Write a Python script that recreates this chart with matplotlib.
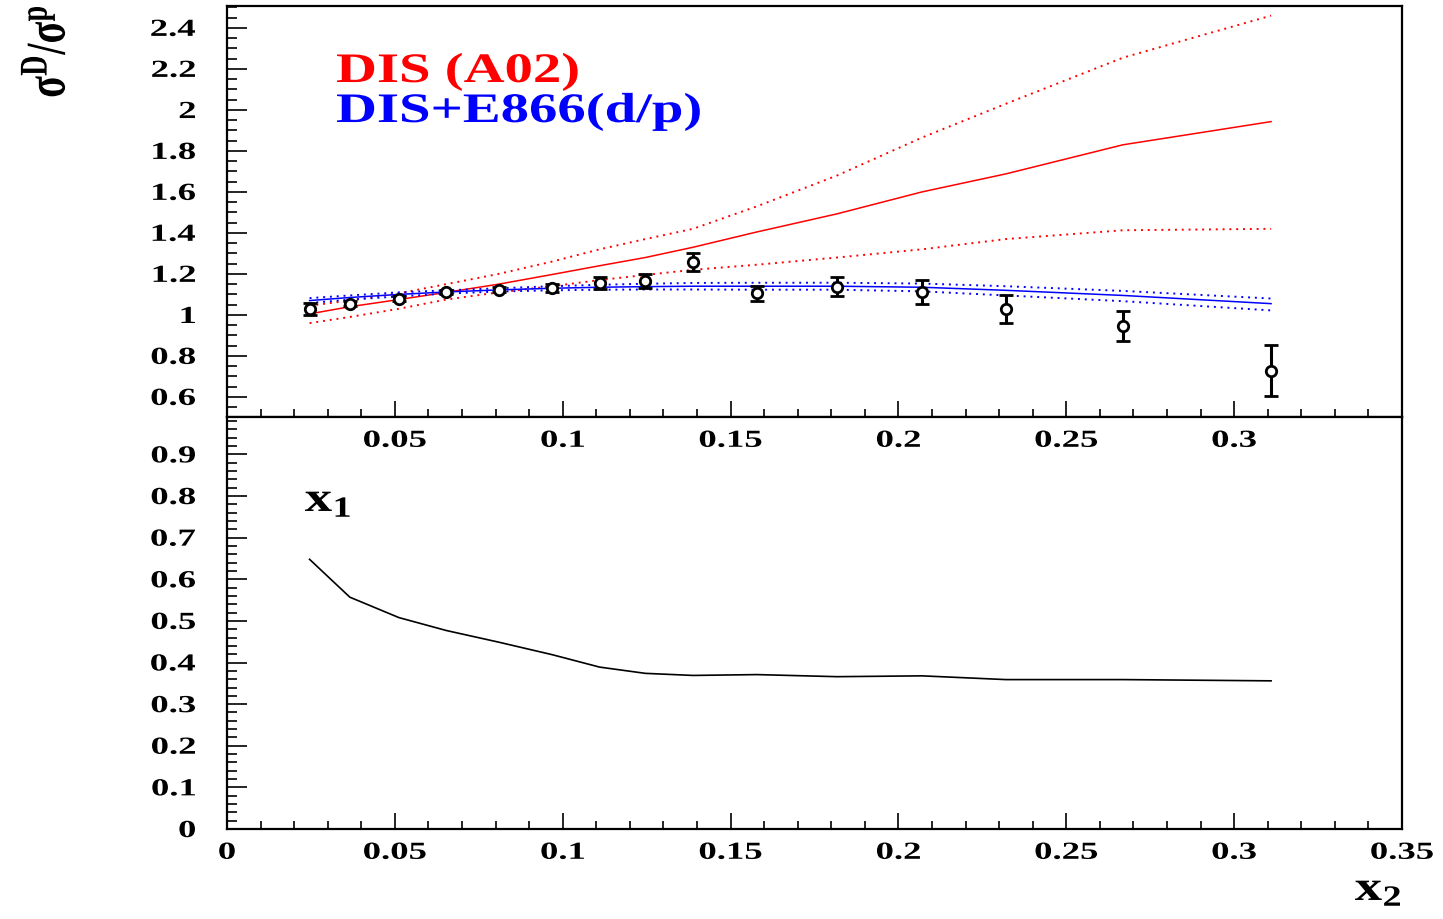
import matplotlib
matplotlib.use('Agg')
import matplotlib.pyplot as plt
from matplotlib.ticker import MultipleLocator, NullFormatter
from matplotlib.textpath import TextPath
from matplotlib.patches import PathPatch
from matplotlib.font_manager import FontProperties
from matplotlib.transforms import Affine2D, IdentityTransform

"""
**DATA**
"""
x2 = [0.0246, 0.0366, 0.0512, 0.0653, 0.0809, 0.0968, 0.1110, 0.1246,
      0.1388, 0.1579, 0.1817, 0.2070, 0.2320, 0.2669, 0.3110]
ratio = [1.029, 1.054, 1.078, 1.111, 1.122, 1.133, 1.155, 1.167,
         1.257, 1.105, 1.138, 1.111, 1.029, 0.945, 0.728]
ratio_err = [0.030, 0.012, 0.012, 0.010, 0.012, 0.020, 0.030, 0.035,
             0.045, 0.035, 0.047, 0.058, 0.068, 0.074, 0.124]

a02 = [1.005, 1.040, 1.075, 1.110, 1.150, 1.197, 1.240, 1.280,
       1.330, 1.405, 1.493, 1.600, 1.688, 1.830, 1.943]
a02_up = [1.045, 1.070, 1.105, 1.150, 1.200, 1.260, 1.320, 1.370,
          1.420, 1.530, 1.680, 1.865, 2.030, 2.255, 2.460]
a02_lo = [0.960, 0.990, 1.030, 1.075, 1.110, 1.140, 1.170, 1.195,
          1.220, 1.245, 1.280, 1.320, 1.370, 1.413, 1.420]

e866 = [1.070, 1.085, 1.100, 1.112, 1.122, 1.130, 1.135, 1.138,
        1.140, 1.140, 1.140, 1.135, 1.120, 1.095, 1.055]
e866_up = [1.082, 1.095, 1.110, 1.120, 1.130, 1.140, 1.147, 1.152,
           1.156, 1.157, 1.157, 1.153, 1.140, 1.117, 1.080]
e866_lo = [1.058, 1.075, 1.090, 1.104, 1.114, 1.120, 1.123, 1.124,
           1.124, 1.123, 1.123, 1.115, 1.095, 1.067, 1.022]

x1 = [0.648, 0.557, 0.508, 0.477, 0.449, 0.419, 0.389, 0.374,
      0.369, 0.371, 0.366, 0.368, 0.359, 0.359, 0.356]

top_yticks = [0.6, 0.8, 1.0, 1.2, 1.4, 1.6, 1.8, 2.0, 2.2, 2.4]
top_xticks = [0.05, 0.1, 0.15, 0.2, 0.25, 0.3]
bot_yticks = [0, 0.1, 0.2, 0.3, 0.4, 0.5, 0.6, 0.7, 0.8, 0.9]
bot_xticks = [0, 0.05, 0.1, 0.15, 0.2, 0.25, 0.3, 0.35]
##########################################

plt.rcParams['mathtext.fontset'] = 'custom'
plt.rcParams['mathtext.rm'] = 'Liberation Serif:bold'
plt.rcParams['mathtext.it'] = 'Liberation Serif:bold'
plt.rcParams['mathtext.bf'] = 'Liberation Serif:bold'
plt.rcParams['mathtext.default'] = 'rm'

W, H = 1443, 920
fig = plt.figure(figsize=(W / 100, H / 100), dpi=100)
ax1 = fig.add_axes([0.1573, 0.54565, 0.8143, 0.44674])
ax2 = fig.add_axes([0.1573, 0.09783, 0.8143, 0.44783])

FP = FontProperties(family='Liberation Serif', weight='bold')


# the ROOT picture was stretched sideways, so text is drawn as wide paths
def stext(x, y, s, size, color='k', ha='left', va='baseline', rot=0, stretch=1.45):
    path = TextPath((0, 0), s, size=size, prop=FP)
    path = Affine2D().rotate_deg(rot).scale(stretch, 1).transform_path(path)
    ext = path.get_extents()
    dx = {'left': -ext.x0, 'center': -(ext.x0 + ext.x1) / 2, 'right': -ext.x1}[ha]
    dy = {'baseline': 0, 'center': -(ext.y0 + ext.y1) / 2, 'top': -ext.y1}[va]
    path = Affine2D().translate(x + dx, y + dy).transform_path(path)
    fig.add_artist(PathPatch(path, fc=color, ec='none', lw=0, transform=IdentityTransform()))


for ax in (ax1, ax2):
    ax.set_xlim(0, 0.35)
    ax.xaxis.set_major_locator(MultipleLocator(0.05))
    ax.xaxis.set_minor_locator(MultipleLocator(0.01))
    ax.xaxis.set_major_formatter(NullFormatter())
    ax.yaxis.set_major_formatter(NullFormatter())
    ax.tick_params(which='both', direction='in', top=False, right=False)
    ax.tick_params(axis='x', which='major', length=11.5, width=1.2)
    ax.tick_params(axis='x', which='minor', length=5.8, width=1.2)
    ax.tick_params(axis='y', which='major', length=14.4, width=1.2)
    ax.tick_params(axis='y', which='minor', length=7.2, width=1.2)
    for s in ax.spines.values():
        s.set_linewidth(1.6)

# top panel
ax1.set_ylim(0.502, 2.507)
ax1.yaxis.set_major_locator(MultipleLocator(0.2))
ax1.yaxis.set_minor_locator(MultipleLocator(0.05))

ax1.plot(x2, a02, color='#ff0000', lw=1.1)
ax1.plot(x2, a02_up, color='#ff0000', lw=1.4, ls=(0, (1, 2.5)))
ax1.plot(x2, a02_lo, color='#ff0000', lw=1.4, ls=(0, (1, 2.5)))
ax1.plot(x2, e866, color='#0000ff', lw=1.1)
ax1.plot(x2, e866_up, color='#0000ff', lw=1.4, ls=(0, (1, 2.5)))
ax1.plot(x2, e866_lo, color='#0000ff', lw=1.4, ls=(0, (1, 2.5)))
ax1.errorbar(x2, ratio, yerr=ratio_err, fmt='o', color='k', mfc='white', mec='k',
             ms=7.5, mew=2.0, elinewidth=2.2, capsize=5, capthick=2.2, zorder=5)

# bottom panel
ax2.set_ylim(0, 0.99)
ax2.yaxis.set_major_locator(MultipleLocator(0.1))
ax2.yaxis.set_minor_locator(MultipleLocator(0.02))
ax2.plot(x2, x1, color='k', lw=1.2)

# tick labels
for ax, yt, xt in ((ax1, top_yticks, top_xticks), (ax2, bot_yticks, bot_xticks)):
    x0, y0 = ax.transAxes.transform((0, 0))
    for v in yt:
        py = ax.transData.transform((0, v))[1]
        stext(x0 - 32, py, '%g' % v, 24.5, ha='right', va='center', stretch=1.5)
    for v in xt:
        px = ax.transData.transform((v, 0))[0]
        stext(px, y0 - 13.5, '%g' % v, 24.5, ha='center', va='top', stretch=1.5)

stext(337, H - 83, 'DIS (A02)', 42, color='#ff0000', stretch=1.35)
stext(337, H - 123, 'DIS+E866(d/p)', 42, color='#0000ff', stretch=1.35)
stext(305, H - 512, r'$x_{1}$', 42, stretch=1.3)
stext(1355, H - 901, r'$x_{2}$', 42, stretch=1.3)
stext(43, H - 8, r'$\sigma^{D}/\sigma^{p}$', 40, ha='center', va='top', rot=90, stretch=1.4)

fig.savefig('out.png', dpi=100)
plt.close('all')
